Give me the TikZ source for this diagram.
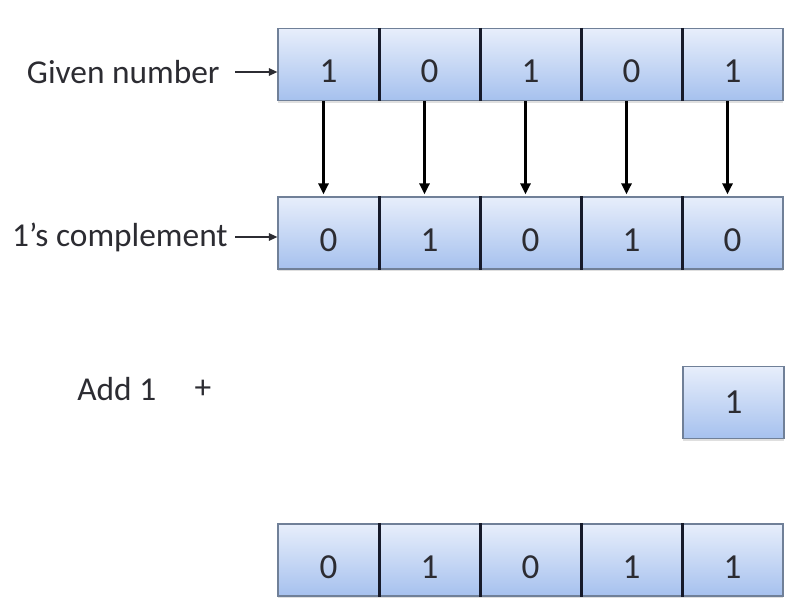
\documentclass[tikz,border=0pt]{standalone}
\usepackage{fontspec}
\setmainfont{Carlito}
\usepackage{xcolor}
\usetikzlibrary{arrows.meta, positioning, shadows}

\definecolor{celltop}{RGB}{231,238,251}
\definecolor{cellbot}{RGB}{166,193,238}
\definecolor{cellline}{RGB}{112,128,152}
\definecolor{divline}{RGB}{22,26,42}
\definecolor{txtgray}{RGB}{44,44,50}

\tikzset{
  bit/.style={draw=cellline, line width=0.025cm, top color=celltop, bottom color=cellbot,
    minimum width=2.02cm, minimum height=1.44cm, inner sep=0pt, text=txtgray,
    font=\fontsize{20}{24}\selectfont, text height=20.5pt, text depth=0pt,
    drop shadow={shadow xshift=0cm, shadow yshift=-0.05cm, opacity=0.25}},
  onebit/.style={text height=12.6pt},
  divider/.style={draw=divline, line width=0.06cm},
  lbl/.style={text=txtgray},
  lblarrow/.style={draw=txtgray, line width=0.03cm, -{Triangle[length=0.17cm,width=0.15cm]}},
  bitarrow/.style={draw=black, line width=0.06cm, -{Triangle[length=0.22cm,width=0.2cm]}, shorten >=0.04cm}
}

\begin{document}
\begin{tikzpicture}[x=0.02cm, y=-0.02cm, font=\fontsize{19}{23}\selectfont]
  \useasboundingbox (0,0) rectangle (788,608);

  % given number
  \foreach \b [count=\i] in {1,0,1,0,1}
    \node[bit] (g\i) at ({278+101*(\i-1)+50.5},64.5) {\b};
  \foreach \i in {1,...,4}
    \draw[divider] (g\i.north east) -- (g\i.south east);

  % 1's complement
  \foreach \b [count=\i] in {0,1,0,1,0}
    \node[bit] (c\i) at ({278+101*(\i-1)+50.5},233) {\b};
  \foreach \i in {1,...,4}
    \draw[divider] (c\i.north east) -- (c\i.south east);

  \foreach \i in {1,...,5}
    \draw[bitarrow] ([xshift=-0.1cm]g\i.south) -- ([xshift=-0.1cm]c\i.north);

  % labels
  \node[lbl, anchor=east, inner xsep=0.3cm] (given) at (235,72) {Given number};
  \draw[lblarrow] (given.east) -- (given.east -| g1.west);
  \node[lbl, anchor=east, inner xsep=0.14cm] (compl) at (235,237) {1’s complement};
  \draw[lblarrow] (compl.east) -- (compl.east -| c1.west);

  % add one
  \node[lbl, anchor=west, inner sep=0pt] (add) at (77,389) {Add 1};
  \node[lbl, inner sep=0pt] (plus) at (203,389) {+};
  \node[bit, onebit] (one) at (733.5,402.5) {1};

  % result
  \foreach \b [count=\i] in {0,1,0,1,1}
    \node[bit] (r\i) at ({278+101*(\i-1)+50.5},560) {\b};
  \foreach \i in {1,...,4}
    \draw[divider] (r\i.north east) -- (r\i.south east);
\end{tikzpicture}
\end{document}
